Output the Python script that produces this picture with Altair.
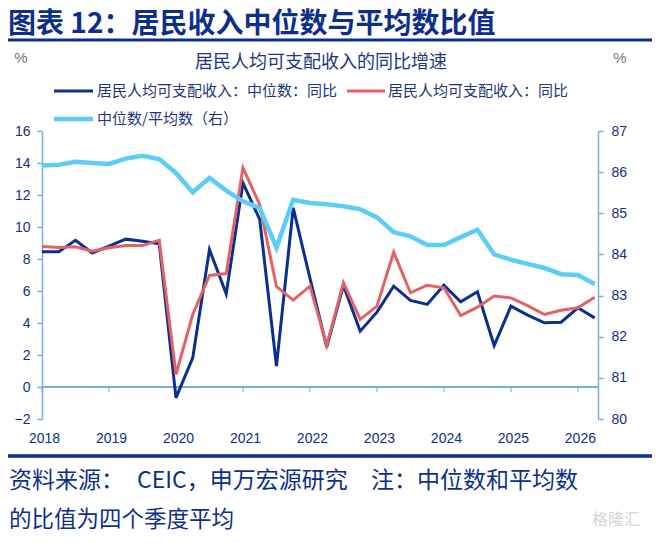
import altair as alt
import pandas as pd

# quarterly data, 2018Q1 onward
years = [2018, 2019, 2020, 2021, 2022, 2023, 2024, 2025, 2026]
quarters = [f"{y}Q{q}" for y in years for q in range(1, 5)][:34]

median_yoy = [8.45, 8.45, 9.17, 8.38, 8.8, 9.24, 9.11, 8.95,
              -0.68, 1.82, 8.59, 5.82, 12.76, 10.47, 1.3, 11.2,
              6.8, 2.5, 6.35, 3.49, 4.68, 6.3, 5.41, 5.16,
              6.36, 5.32, 5.95, 2.59, 5.05, 4.49, 4.01, 4.05,
              4.95, 4.32]
mean_yoy = [8.78, 8.72, 8.76, 8.49, 8.7, 8.84, 8.84, 9.18,
            0.78, 4.53, 6.97, 7.09, 13.7, 11.4, 6.28, 5.43,
            6.3, 2.6, 6.52, 4.22, 5.05, 8.43, 5.89, 6.36,
            6.2, 4.47, 4.99, 5.68, 5.57, 5.09, 4.53, 4.8,
            4.95, 5.61]
ratio = [86.16, 86.18, 86.25, 86.22, 86.2, 86.33, 86.4, 86.32,
         85.98, 85.51, 85.86, 85.55, 85.29, 85.13, 84.17, 85.33,
         85.25, 85.22, 85.17, 85.1, 84.9, 84.54, 84.44, 84.23,
         84.23, 84.42, 84.6, 84.0, 83.87, 83.77, 83.67, 83.52,
         83.5, 83.28]

left_ticks = [-2, 0, 2, 4, 6, 8, 10, 12, 14, 16]
right_ticks = [80, 81, 82, 83, 84, 85, 86, 87]

NAVY = "#0c2f8c"
BLUE = "#0b2f8e"
RED = "#e36265"
LIGHT = "#5ccdf8"
AXIS = "#7aaede"
CJK = "Noto Sans CJK SC"
NUM = "Liberation Sans"

t = [int(s[:4]) + (int(s[-1]) - 1) / 4 for s in quarters]
df = pd.DataFrame({"t": t, "median": median_yoy, "mean": mean_yoy, "ratio": ratio})

xscale = alt.Scale(domain=[2018, 2026.3], nice=False, zero=False)
lscale = alt.Scale(domain=[-2, 16], nice=False, zero=False)
rscale = alt.Scale(domain=[80, 87], nice=False, zero=False)

xaxis = alt.Axis(values=years, format="d", domain=False, ticks=False, grid=False,
                 title=None, labelColor=NAVY, labelFont=NUM, labelFontSize=14,
                 labelPadding=12, labelFlush=False, labelOffset=2)
laxis = alt.Axis(values=left_ticks, grid=False, title=None, domainColor=AXIS,
                 domainWidth=1.5, tickColor=AXIS, tickWidth=1.5, tickSize=5,
                 labelColor=NAVY, labelFont=NUM, labelFontSize=14, labelPadding=7)
raxis = alt.Axis(values=right_ticks, orient="right", grid=False, title=None,
                 domainColor=AXIS, domainWidth=1.5, tickColor=AXIS, tickWidth=1.5,
                 tickSize=5, labelColor=NAVY, labelFont=NUM, labelFontSize=14,
                 labelPadding=8)

base = alt.Chart(df)

zero_line = alt.Chart(pd.DataFrame({"z": [0]})).mark_rule(
    color=AXIS, strokeWidth=2
).encode(y=alt.Y("z:Q", scale=lscale, axis=laxis))

year_marks = alt.Chart(pd.DataFrame({"t": years, "z": 0})).mark_tick(
    orient="vertical", size=5, thickness=1.5, yOffset=2.5, color=AXIS
).encode(
    x=alt.X("t:Q", scale=xscale, axis=xaxis),
    y=alt.Y("z:Q", scale=lscale, axis=laxis),
)

median_line = base.mark_line(color=BLUE, strokeWidth=3).encode(
    x=alt.X("t:Q", scale=xscale, axis=xaxis),
    y=alt.Y("median:Q", scale=lscale, axis=laxis),
)
mean_line = base.mark_line(color=RED, strokeWidth=3).encode(
    x=alt.X("t:Q", scale=xscale, axis=xaxis),
    y=alt.Y("mean:Q", scale=lscale, axis=laxis),
)
left = alt.layer(zero_line, year_marks, median_line, mean_line)

ratio_line = base.mark_line(color=LIGHT, strokeWidth=4.5).encode(
    x=alt.X("t:Q", scale=xscale, axis=xaxis),
    y=alt.Y("ratio:Q", scale=rscale, axis=raxis),
)


def label(txt, x, y, size, color, align="left", bold=False, font=CJK):
    return alt.Chart(pd.DataFrame({"s": [txt]})).mark_text(
        align=align, baseline="middle", fontSize=size, color=color, font=font,
        fontWeight="bold" if bold else "normal"
    ).encode(x=alt.value(x), y=alt.value(y), text="s:N")


def hline(x1, x2, y, color, width):
    return alt.Chart(pd.DataFrame({"s": [0]})).mark_rule(
        color=color, strokeWidth=width
    ).encode(x=alt.value(x1), x2=alt.value(x2), y=alt.value(y))


decor = [
    label("图表 12：居民收入中位数与平均数比值", -34, -106, 28, NAVY, bold=True),
    hline(-34, 610, -91, NAVY, 3),
    label("%", -21, -73, 15, "#777777", align="center", font=NUM),
    label("%", 578, -73, 15, "#777777", align="center", font=NUM),
    label("居民人均可支配收入的同比增速", 279, -68, 18, "#1d3580", align="center"),
    hline(12, 51, -40, BLUE, 3),
    label("居民人均可支配收入：中位数：同比", 55, -40, 15, "#1d3580"),
    hline(305, 343, -40, RED, 3),
    label("居民人均可支配收入：同比", 346, -40, 15, "#1d3580"),
    hline(12, 51, -12, LIGHT, 4.5),
    label("中位数/平均数（右）", 55, -12, 15, "#1d3580"),
    hline(-34, 610, 325, NAVY, 3.5),
    label("资料来源：", -33, 350, 23, NAVY),
    label("CEIC，申万宏源研究", 95, 350, 23, NAVY),
    label("注：中位数和平均数", 329, 350, 23, NAVY),
    label("的比值为四个季度平均", -33, 389, 22.5, NAVY),
    label("格隆汇", 598, 389, 16, "#d4d4d4", align="right"),
]

chart = alt.layer(left, ratio_line, *decor).resolve_scale(
    y="independent"
).properties(
    width=556,
    height=288,
    autosize=alt.AutoSizeParams(type="none"),
    padding={"left": 34, "top": 123, "right": 55, "bottom": 116},
    background="white",
).configure_view(stroke=None)

chart.save("out.html", embed_options={"renderer": "svg", "actions": False})
